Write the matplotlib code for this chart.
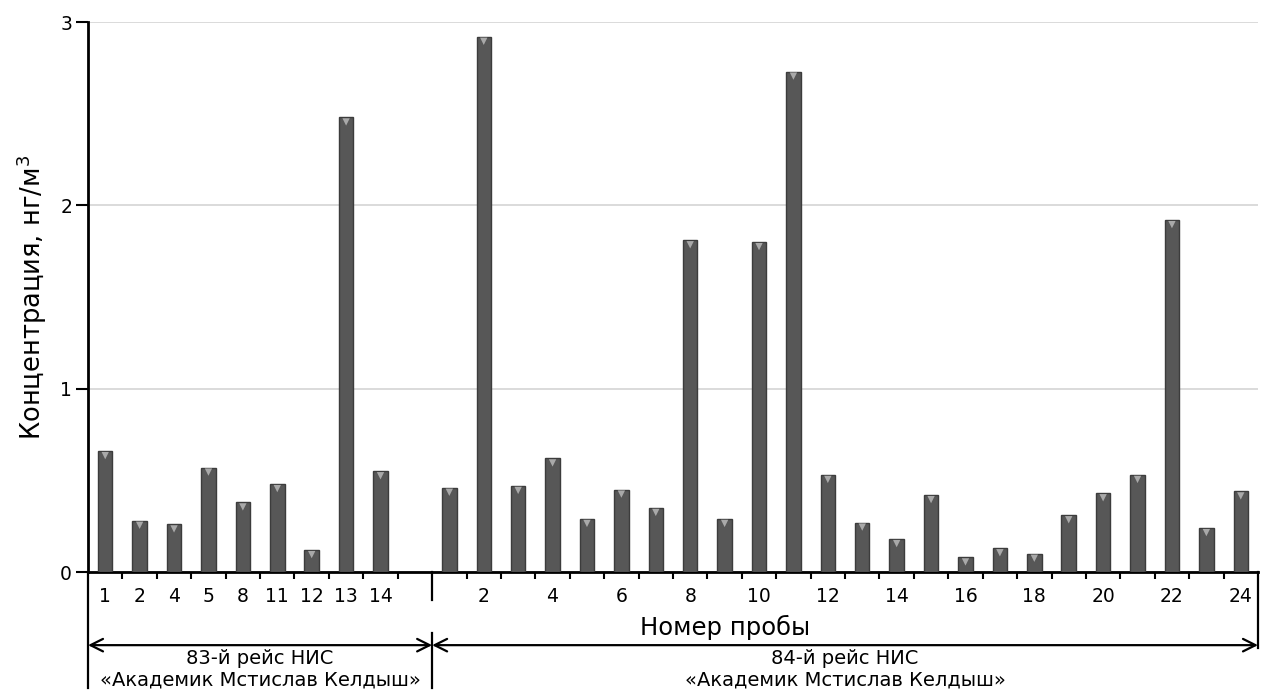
import matplotlib.pyplot as plt
import numpy as np

plt.rcParams['font.family'] = ['DejaVu Sans']
plt.rcParams['mathtext.fontset'] = 'dejavusans'

# 83rd cruise
labels_83 = ['1', '2', '4', '5', '8', '11', '12', '13', '14']
values_83 = [0.66, 0.28, 0.26, 0.57, 0.38, 0.48, 0.12, 2.48, 0.55]

# 84th cruise
samples_84 = list(range(1, 25))
values_84 = [0.46, 2.92, 0.47, 0.62, 0.29, 0.45, 0.35, 1.81, 0.29, 1.80, 2.73, 0.53,
             0.27, 0.18, 0.42, 0.08, 0.13, 0.10, 0.31, 0.43, 0.53, 1.92, 0.24, 0.44]
labels_84 = [str(n) if n % 2 == 0 else '' for n in samples_84]

cruise_83 = ['83-й рейс НИС', '«Академик Мстислав Келдыш»']
cruise_84 = ['84-й рейс НИС', '«Академик Мстислав Келдыш»']

pos_83 = np.arange(len(values_83))
pos_84 = np.arange(len(values_84)) + len(values_83) + 1
divider = len(values_83) + 0.5
x_end = pos_84[-1] + 0.5

fig = plt.figure(figsize=(12.61, 6.91), dpi=100)
ax = fig.add_axes([0.0698, 0.1722, 0.9278, 0.7959])

positions = np.concatenate([pos_83, pos_84])
values = np.array(values_83 + values_84)
ax.bar(positions, values, width=0.42, color='#575757', edgecolor='#3c3c3c',
       linewidth=1.0, zorder=3)
# small light triangle on top of each bar
ax.scatter(positions, values - 0.025, marker='v', s=28, color='#a9a9a9',
           edgecolors='none', zorder=4)

ax.set_xlim(-0.5, x_end)
ax.set_ylim(0, 3)
ax.set_yticks([0, 1, 2, 3])
ax.grid(axis='y', color='#dadada', linewidth=1.4, zorder=0)
ax.set_axisbelow(True)

ax.set_xticks(positions)
ax.set_xticklabels(labels_83 + labels_84)
ax.tick_params(axis='x', which='major', length=0, pad=11, labelsize=13.5)
boundaries = [b + 0.5 for b in range(0, int(x_end)) if b + 0.5 != divider]
ax.set_xticks(boundaries, minor=True)
ax.tick_params(axis='x', which='minor', length=5, width=1.5, direction='out')
ax.tick_params(axis='y', length=8.5, width=1.5, labelsize=13.5, pad=3)

for s in ['top', 'right']:
    ax.spines[s].set_visible(False)
for s in ['left', 'bottom']:
    ax.spines[s].set_linewidth(2)

ax.set_ylabel('Концентрация, нг/м$^3$', fontsize=18.5, labelpad=8)

trans = ax.get_xaxis_transform()
ax.text(18.0, -0.1, 'Номер пробы', transform=trans,
        ha='center', va='center', fontsize=17.5)

arrow_y = -0.133
kw = dict(color='black', linewidth=1.6, clip_on=False)
ax.plot([-0.5, -0.5], [0, -0.21], transform=trans, **kw)
ax.plot([divider, divider], [0, -0.05], transform=trans, **kw)
ax.plot([divider, divider], [-0.11, -0.21], transform=trans, **kw)
ax.plot([x_end, x_end], [0, -0.138], transform=trans, **kw)

for a, b in [(-0.5, divider), (divider, x_end)]:
    ax.annotate('', xy=(a, arrow_y), xytext=(b, arrow_y), xycoords=trans, textcoords=trans,
                arrowprops=dict(arrowstyle='<->,head_length=0.9,head_width=0.45',
                                color='black', linewidth=1.6, shrinkA=0, shrinkB=0))

for (left, right), lines in [((-0.5, divider), cruise_83), ((divider, x_end), cruise_84)]:
    mid = (left + right) / 2
    ax.text(mid, -0.167, lines[0], transform=trans, ha='center', va='baseline', fontsize=14)
    ax.text(mid, -0.207, lines[1], transform=trans, ha='center', va='baseline', fontsize=14)

fig.savefig('out.png', dpi=100)
